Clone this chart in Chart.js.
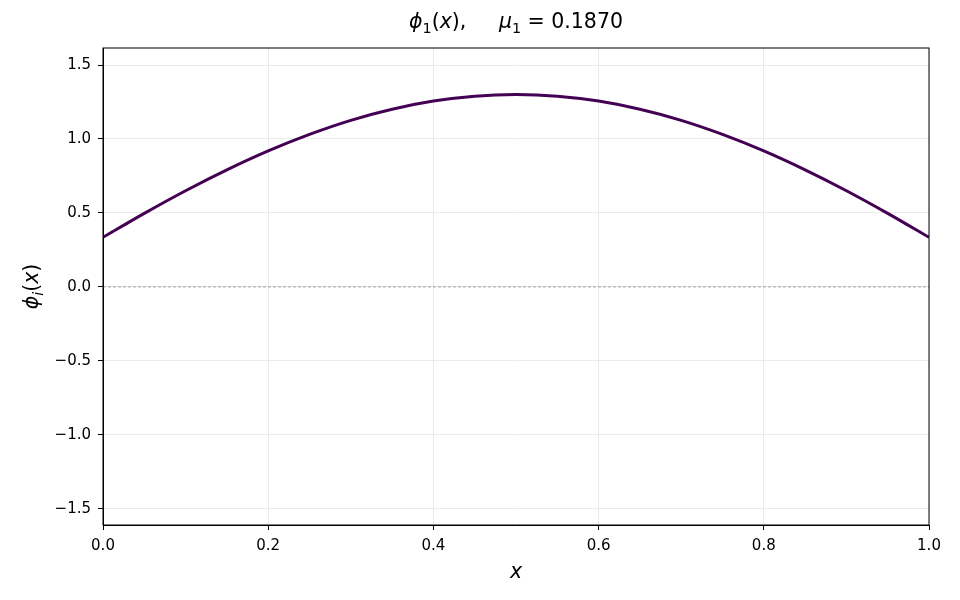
<!DOCTYPE html>
<html lang="en">
<head>
    <meta charset="UTF-8">
    <title>phi_1(x)</title>
    <script src="https://cdn.jsdelivr.net/npm/chart.js"></script>
    <style>
        body { margin: 0; background: #fff; }
        #wrap { width: 960px; height: 600px; }
    </style>
</head>
<body>
    <div id="wrap"><canvas id="chart" width="960" height="600"></canvas></div>

    <script>
        // values
        const xs = [0, 0.05, 0.1, 0.15, 0.2, 0.25, 0.3, 0.35, 0.4, 0.45, 0.5,
                    0.55, 0.6, 0.65, 0.7, 0.75, 0.8, 0.85, 0.9, 0.95, 1.0];
        const phi1 = [0.335, 0.497, 0.650, 0.791, 0.919, 1.031, 1.126, 1.201, 1.256, 1.289, 1.300,
                      1.289, 1.256, 1.201, 1.126, 1.031, 0.919, 0.791, 0.650, 0.497, 0.335];
        const zeroX = [0, 1];
        const zeroY = [0, 0];
        const xTicks = [0, 0.2, 0.4, 0.6, 0.8, 1.0];
        const yTicks = [-1.5, -1.0, -0.5, 0.0, 0.5, 1.0, 1.5];

        const FONT = "'DejaVu Sans', sans-serif";

        // draw a run of text pieces, some italic, some subscript
        function drawRich(ctx, parts, size) {
            let w = 0;
            const m = parts.map(p => {
                const s = p.sub ? size * 0.7 : size;
                ctx.font = (p.it ? 'italic ' : '') + s + 'px ' + FONT;
                const pw = ctx.measureText(p.t).width;
                w += pw;
                return { p, s, pw };
            });
            let x = -w / 2;
            m.forEach(({ p, s, pw }) => {
                ctx.font = (p.it ? 'italic ' : '') + s + 'px ' + FONT;
                ctx.fillText(p.t, x, p.sub ? size * 0.22 : 0);
                x += pw;
            });
        }

        const labels = {
            id: 'labels',
            afterDraw(chart) {
                const ctx = chart.ctx;
                const a = chart.chartArea;
                ctx.save();
                ctx.fillStyle = '#000';
                ctx.textBaseline = 'alphabetic';
                ctx.textAlign = 'left';

                // frame round the plot
                ctx.strokeStyle = '#000';
                ctx.lineWidth = 1;
                ctx.strokeRect(a.left, a.top, a.right - a.left, a.bottom - a.top);

                // title
                ctx.save();
                ctx.translate((a.left + a.right) / 2, 28);
                drawRich(ctx, [
                    { t: 'ϕ', it: true }, { t: '1', sub: true }, { t: '(' }, { t: 'x', it: true }, { t: '),     ' },
                    { t: 'μ', it: true }, { t: '1', sub: true }, { t: ' = 0.1870' }
                ], 20.5);
                ctx.restore();

                // x label
                ctx.save();
                ctx.translate((a.left + a.right) / 2, 577.5);
                drawRich(ctx, [{ t: 'x', it: true }], 20.5);
                ctx.restore();

                // y label
                ctx.save();
                ctx.translate(38, (a.top + a.bottom) / 2);
                ctx.rotate(-Math.PI / 2);
                drawRich(ctx, [{ t: 'ϕ', it: true }, { t: 'i', it: true, sub: true }, { t: '(' }, { t: 'x', it: true }, { t: ')' }], 20.5);
                ctx.restore();

                ctx.restore();
            }
        };

        const fmt = v => v.toFixed(1).replace('-', '\u2212');

        const ctx = document.getElementById('chart').getContext('2d');
        const chart = new Chart(ctx, {
            type: 'line',
            data: {
                datasets: [{
                    data: zeroX.map((x, i) => ({ x, y: zeroY[i] })),
                    borderColor: '#8a8a8a',
                    borderWidth: 0.8,
                    borderDash: [3, 2],
                    pointRadius: 0,
                    order: 2
                }, {
                    data: xs.map((x, i) => ({ x, y: phi1[i] })),
                    borderColor: '#440154',
                    borderWidth: 3,
                    pointRadius: 0,
                    cubicInterpolationMode: 'monotone',
                    order: 1
                }]
            },
            options: {
                responsive: false,
                animation: false,
                layout: { padding: { left: 0, right: 31, top: 48, bottom: 0 } },
                plugins: {
                    legend: { display: false },
                    tooltip: { enabled: false }
                },
                scales: {
                    x: {
                        type: 'linear',
                        min: 0,
                        max: 1,
                        afterFit: s => { s.height = 75; },
                        afterBuildTicks: s => { s.ticks = xTicks.map(v => ({ value: v })); },
                        ticks: {
                            color: '#000',
                            font: { family: FONT, size: 15 },
                            padding: 7,
                            maxRotation: 0,
                            callback: fmt
                        },
                        grid: { color: '#ebebeb', lineWidth: 1, tickColor: '#000', tickLength: 5 },
                        border: { color: '#000', width: 1 }
                    },
                    y: {
                        min: -1.61,
                        max: 1.615,
                        afterFit: s => { s.width = 103; },
                        afterBuildTicks: s => { s.ticks = yTicks.map(v => ({ value: v })); },
                        ticks: {
                            color: '#000',
                            font: { family: FONT, size: 15 },
                            padding: 7,
                            callback: fmt
                        },
                        grid: { color: '#ebebeb', lineWidth: 1, tickColor: '#000', tickLength: 5 },
                        border: { color: '#000', width: 1 }
                    }
                }
            },
            plugins: [labels]
        });
    </script>
</body>
</html>
